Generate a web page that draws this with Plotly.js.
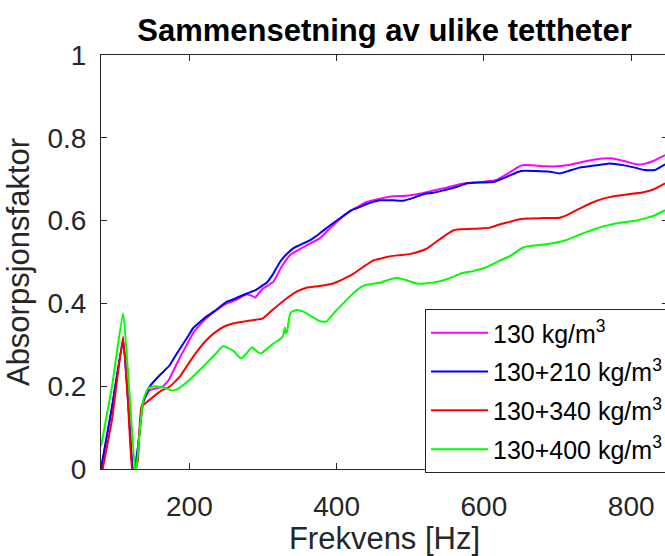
<!DOCTYPE html>
<html>
<head>
<meta charset="utf-8">
<script src="https://cdn.plot.ly/plotly-3.0.1.min.js"></script>
<style>
html, body { margin: 0; padding: 0; overflow: hidden; background: #fff; }
#chart { width: 670px; height: 556px; }
</style>
</head>
<body>
<div id="chart"></div>
<script>
const seriesNames = ["130 kg/m<sup>3</sup>", "130+210 kg/m<sup>3</sup>", "130+340 kg/m<sup>3</sup>", "130+400 kg/m<sup>3</sup>"];
const seriesColors = ["#ff00ff", "#0000ff", "#ff0000", "#00ff00"];

const freq130 = [80, 95, 110, 117, 124, 130, 137, 146, 155, 164, 172, 183, 195, 205, 215, 228, 240, 251, 265, 278, 285, 289, 294, 300, 314, 325, 337, 350, 364, 377, 390, 404, 420, 432, 441, 459, 477, 495, 513, 530, 548, 567, 585, 600, 617, 631, 645, 653, 670, 685, 700, 717, 740, 762, 775, 790, 807, 818, 830, 846];
const abs130 = [0, 0.15, 0.31, 0.16, -0.02, 0.05, 0.16, 0.19, 0.195, 0.199, 0.215, 0.255, 0.295, 0.328, 0.35, 0.372, 0.388, 0.4, 0.41, 0.422, 0.418, 0.414, 0.424, 0.436, 0.452, 0.488, 0.517, 0.531, 0.545, 0.557, 0.58, 0.603, 0.625, 0.637, 0.645, 0.653, 0.659, 0.66, 0.665, 0.672, 0.679, 0.688, 0.692, 0.694, 0.698, 0.712, 0.728, 0.734, 0.733, 0.731, 0.731, 0.735, 0.744, 0.75, 0.75, 0.744, 0.736, 0.737, 0.744, 0.758];

const freq210 = [80, 95, 110, 117, 124, 130, 137, 146, 160, 173, 183, 198, 205, 223, 233, 251, 260, 278, 290, 300, 305, 314, 323, 330, 341, 350, 364, 377, 390, 404, 420, 432, 441, 459, 477, 490, 504, 520, 531, 545, 563, 577, 595, 613, 630, 650, 670, 690, 703, 715, 730, 750, 771, 789, 805, 818, 832, 846];
const abs210 = [0, 0.15, 0.31, 0.16, -0.02, 0.05, 0.16, 0.199, 0.227, 0.25, 0.279, 0.32, 0.34, 0.368, 0.38, 0.404, 0.41, 0.424, 0.432, 0.444, 0.45, 0.472, 0.5, 0.515, 0.533, 0.541, 0.553, 0.569, 0.587, 0.605, 0.625, 0.633, 0.64, 0.649, 0.649, 0.648, 0.655, 0.665, 0.667, 0.673, 0.681, 0.69, 0.692, 0.693, 0.705, 0.72, 0.72, 0.718, 0.714, 0.72, 0.728, 0.733, 0.738, 0.734, 0.728, 0.722, 0.722, 0.736];

const freq340 = [80, 95, 110, 117, 123, 130, 135, 146, 160, 174, 187, 205, 223, 235, 246, 260, 273, 288, 300, 314, 332, 345, 359, 377, 395, 410, 423, 436, 450, 459, 468, 482, 499, 510, 522, 540, 558, 568, 595, 608, 620, 635, 645, 658, 680, 703, 715, 730, 745, 762, 780, 798, 815, 830, 846];
const abs340 = [-0.02, 0.12, 0.32, 0.15, -0.02, 0.02, 0.15, 0.167, 0.187, 0.2, 0.223, 0.271, 0.311, 0.33, 0.343, 0.352, 0.356, 0.36, 0.364, 0.386, 0.412, 0.428, 0.438, 0.442, 0.448, 0.46, 0.472, 0.488, 0.504, 0.508, 0.512, 0.516, 0.519, 0.524, 0.532, 0.555, 0.576, 0.579, 0.581, 0.583, 0.59, 0.597, 0.602, 0.605, 0.606, 0.607, 0.615, 0.629, 0.642, 0.653, 0.66, 0.664, 0.668, 0.675, 0.69];

const freq400 = [80, 95, 110, 118, 127, 132, 137.5, 144, 153, 163, 169, 175, 183, 200, 214, 224, 235, 246, 252, 260, 265, 271, 278, 285, 291, 297, 305, 314, 322, 327, 329.7, 331, 333, 334.3, 337, 339, 346, 355, 368, 377, 386, 398, 409, 420, 432, 440, 459, 472, 482, 495, 509, 520, 536, 545, 558, 568, 585, 604, 622, 635, 653, 668, 681, 698, 712, 730, 748, 762, 776, 790, 803, 820, 830, 846];
const abs400 = [0.054, 0.2, 0.377, 0.2, -0.02, 0.08, 0.167, 0.195, 0.2, 0.197, 0.195, 0.19, 0.192, 0.215, 0.239, 0.257, 0.277, 0.297, 0.293, 0.285, 0.275, 0.267, 0.28, 0.294, 0.285, 0.279, 0.29, 0.303, 0.312, 0.32, 0.342, 0.327, 0.335, 0.352, 0.375, 0.38, 0.384, 0.38, 0.366, 0.357, 0.356, 0.38, 0.4, 0.42, 0.438, 0.445, 0.45, 0.458, 0.462, 0.456, 0.448, 0.448, 0.452, 0.456, 0.464, 0.472, 0.478, 0.488, 0.504, 0.514, 0.535, 0.54, 0.542, 0.547, 0.553, 0.566, 0.578, 0.586, 0.592, 0.596, 0.599, 0.606, 0.611, 0.625];

const xTicks = [200, 400, 600, 800];
const yTicks = [0, 0.2, 0.4, 0.6, 0.8, 1];
const yTickText = ["0", "0.2", "0.4", "0.6", "0.8", "1"];

const xs = [freq130, freq210, freq340, freq400];
const ys = [abs130, abs210, abs340, abs400];

const traces = seriesNames.map((name, i) => ({
  x: xs[i], y: ys[i], name: name, type: "scatter", mode: "lines",
  legendgroup: "g" + i,
  line: { color: seriesColors[i], width: 2, shape: "spline", smoothing: 0.4 }
}));

const FONT = "Liberation Sans, Arial, Helvetica, sans-serif";
const axisCol = "#262626";

const layout = {
  width: 670, height: 556,
  margin: { l: 101, r: 2, t: 55, b: 87 },
  paper_bgcolor: "#ffffff", plot_bgcolor: "#ffffff",
  font: { family: FONT, color: axisCol },
  title: {
    text: "<b>Sammensetning av ulike tettheter</b>",
    font: { family: FONT, size: 31, color: "#000000" },
    x: 0.5, xref: "paper", xanchor: "center",
    y: 1 - 30 / 556, yref: "container", yanchor: "middle"
  },
  xaxis: {
    range: [80, 850], tickvals: xTicks, ticktext: xTicks.map(String),
    showline: true, mirror: "ticks", linecolor: axisCol, linewidth: 1,
    ticks: "inside", ticklen: 6, tickcolor: axisCol, tickwidth: 1,
    showgrid: false, zeroline: false,
    tickfont: { family: FONT, size: 28, color: axisCol },
    ticklabelstandoff: 12,
    title: { text: "Frekvens [Hz]", font: { family: FONT, size: 31, color: axisCol }, standoff: 12 },
    automargin: false
  },
  yaxis: {
    range: [0, 1], tickvals: yTicks, ticktext: yTickText,
    showline: true, mirror: "ticks", linecolor: axisCol, linewidth: 1,
    ticks: "inside", ticklen: 6, tickcolor: axisCol, tickwidth: 1,
    showgrid: false, zeroline: false,
    tickfont: { family: FONT, size: 28, color: axisCol },
    ticklabelstandoff: 8,
    title: { text: "Absorpsjonsfaktor", font: { family: FONT, size: 31, color: axisCol }, standoff: 8 },
    automargin: false
  },
  showlegend: true,
  legend: {
    x: (425 - 101) / 567, y: (469 - 309) / 414, xanchor: "left", yanchor: "top",
    xref: "paper", yref: "paper",
    bgcolor: "#ffffff", bordercolor: axisCol, borderwidth: 1,
    font: { family: FONT, size: 25, color: "#000000" },
    itemwidth: 57, tracegroupgap: 3.3,
    entrywidth: 250, entrywidthmode: "pixels"
  }
};

Plotly.newPlot("chart", traces, layout, { staticPlot: true, displayModeBar: false });
</script>
</body>
</html>
